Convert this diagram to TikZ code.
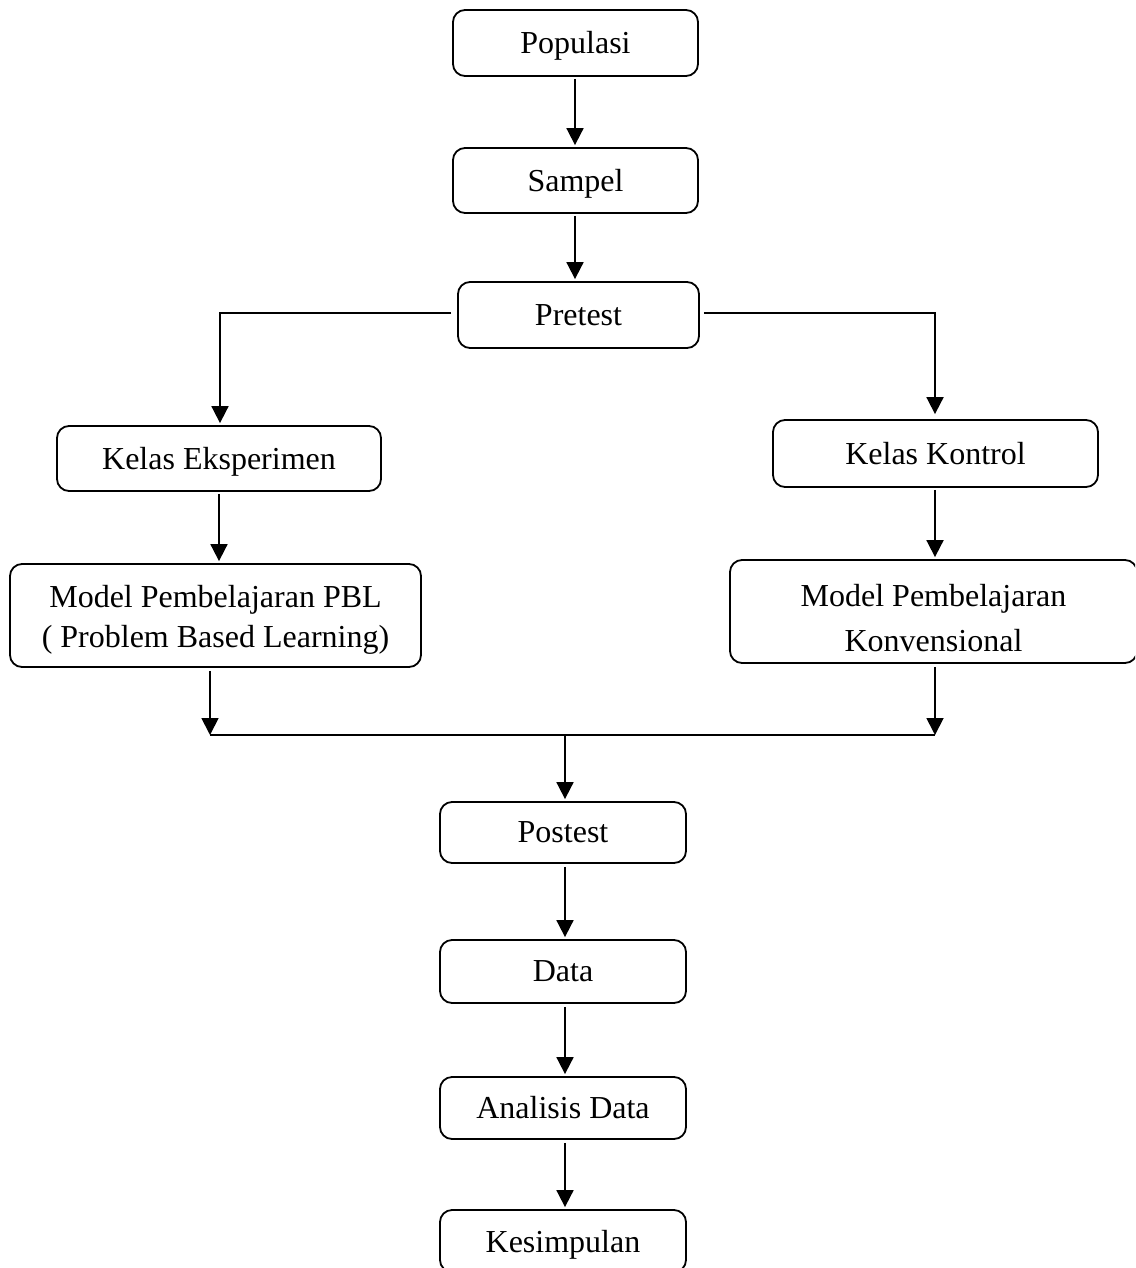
\documentclass[tikz,border=0pt]{standalone}
\usepackage{fontspec}
\setmainfont{Liberation Serif}
\usetikzlibrary{arrows.meta}
\begin{document}
\begin{tikzpicture}[x=1pt,y=-1pt,
  box/.style={draw,line width=1.8pt,rounded corners=12pt,inner sep=0pt,align=center,
    font=\fontsize{32}{35}\selectfont},
  one/.style={box,text height=25pt,text depth=3pt},
  arr/.style={line width=1.8pt,-{Triangle[width=17pt,length=17pt]}},
  ln/.style={line width=1.8pt}]
\clip (0,0) rectangle (1135,1268);
\node[one,minimum width=245pt,minimum height=66pt] (pop) at (575.5,43) {Populasi};
\node[one,minimum width=245pt,minimum height=65pt] (sam) at (575.5,180.5) {Sampel};
\node[box,minimum width=241pt,minimum height=66pt] (pre) at (578.5,315) {Pretest};
\node[one,minimum width=324pt,minimum height=65pt] (ke) at (219,458.5) {Kelas Eksperimen};
\node[box,minimum width=325pt,minimum height=67pt] (kk) at (935.5,453.5) {Kelas Kontrol};
\node[box,minimum width=411pt,minimum height=103pt,font=\fontsize{32}{40}\selectfont] (pbl) at (215.5,615.5) {\rule{0pt}{30pt}Model Pembelajaran PBL\\( Problem Based Learning)};
\node[box,minimum width=407pt,minimum height=103pt,font=\fontsize{32}{45}\selectfont] (konv) at (933.5,611.5) {\rule{0pt}{36pt}Model Pembelajaran\\Konvensional};
\node[box,minimum width=246pt,minimum height=61pt] (post) at (563,832.5) {Postest};
\node[box,minimum width=246pt,minimum height=63pt] (data) at (563,971.5) {Data};
\node[box,minimum width=246pt,minimum height=62pt] (ana) at (563,1108) {Analisis Data};
\node[one,minimum width=246pt,minimum height=62pt] (kes) at (563,1241) {Kesimpulan};
\coordinate (pl) at (220,313);
\coordinate (pr) at (935,313);
\coordinate (jl) at (210,735);
\coordinate (jr) at (935,735);
\coordinate (jm) at (565,735);
\draw[arr,shorten <=2pt,shorten >=2pt] (pop.south -| 575,0) -- (sam.north -| 575,0);
\draw[arr,shorten <=2pt,shorten >=2pt] (sam.south -| 575,0) -- (pre.north -| 575,0);
\draw[arr,shorten >=2pt] ([xshift=-6pt]pre.west |- pl) -- (pl) -- (ke.north -| pl);
\draw[arr,shorten >=5pt] ([xshift=4pt]pre.east |- pr) -- (pr) -- (kk.north -| pr);
\draw[arr,shorten <=2pt,shorten >=2pt] (ke.south -| 219,0) -- (pbl.north -| 219,0);
\draw[arr,shorten <=2pt,shorten >=2pt] (kk.south -| 935,0) -- (konv.north -| 935,0);
\draw[arr,shorten <=3pt] (pbl.south -| jl) -- (jl);
\draw[arr,shorten <=3pt] (konv.south -| jr) -- (jr);
\draw[ln] (jl) -- (jr);
\draw[arr,shorten >=2pt] (jm) -- (post.north -| jm);
\draw[arr,shorten <=3pt,shorten >=2pt] (post.south -| jm) -- (data.north -| jm);
\draw[arr,shorten <=3pt,shorten >=2pt] (data.south -| jm) -- (ana.north -| jm);
\draw[arr,shorten <=3pt,shorten >=2pt] (ana.south -| jm) -- (kes.north -| jm);
\end{tikzpicture}
\end{document}
